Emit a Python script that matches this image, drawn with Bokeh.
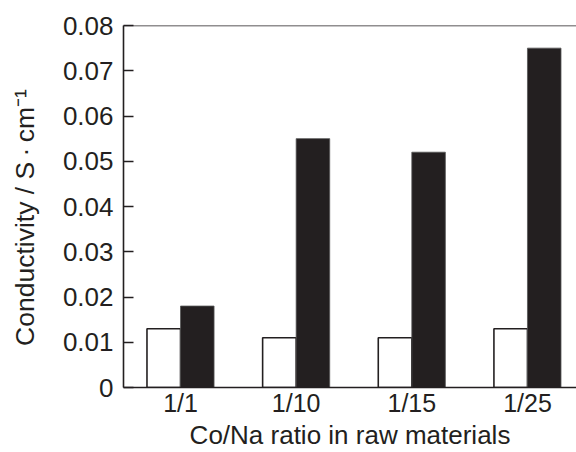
from bokeh.plotting import figure
from bokeh.models import Range1d, FixedTicker, Span, ColumnDataSource
from bokeh.embed import file_html
from bokeh.resources import INLINE

categories = ["1/1", "1/10", "1/15", "1/25"]
white_values = [0.013, 0.011, 0.011, 0.013]
black_values = [0.018, 0.055, 0.052, 0.075]
y_ticks = [0, 0.01, 0.02, 0.03, 0.04, 0.05, 0.06, 0.07, 0.08]
y_tick_labels = ["0", "0.01", "0.02", "0.03", "0.04", "0.05", "0.06", "0.07", "0.08"]
x_title = "Co/Na ratio in raw materials"
y_title = "Conductivity / S\u2009\u00b7\u2009cm\u207b\u00b9\u00a0\u00a0\u00a0"

INK = "#231f20"
FONT = "Liberation Sans"
bar_w = 0.29

idx = list(range(len(categories)))
src = ColumnDataSource(dict(
    xw=[i - bar_w / 2 for i in idx],
    xb=[i + bar_w / 2 for i in idx],
    w=white_values,
    b=black_values,
))

p = figure(width=576, height=452, output_backend="svg", toolbar_location=None,
           x_range=Range1d(-0.493, 3.424), y_range=Range1d(0, 0.08),
           min_border_left=123, min_border_right=0, min_border_top=25,
           min_border_bottom=64)
p.outline_line_color = None
p.grid.visible = False
p.background_fill_color = "white"
p.border_fill_color = "white"

p.vbar(x="xw", top="w", width=bar_w, source=src, fill_color="white",
       line_color=INK, line_width=1.6)
p.vbar(x="xb", top="b", width=bar_w, source=src, fill_color=INK,
       line_color="#555555", line_width=0.8)

p.add_layout(Span(location=0.08, dimension="width", line_color=INK, line_width=1.6))

# y axis
ya = p.yaxis[0]
ya.ticker = FixedTicker(ticks=y_ticks)
ya.major_label_overrides = {t: l for t, l in zip(y_ticks, y_tick_labels)}
ya.major_tick_in = 10
ya.major_tick_out = 0
ya.minor_tick_line_color = None
ya.axis_line_color = INK
ya.axis_line_width = 1.6
ya.major_tick_line_color = INK
ya.major_tick_line_width = 1.6
ya.major_label_standoff = 10
ya.major_label_text_font = FONT
ya.major_label_text_font_size = "26px"
ya.major_label_text_color = INK
ya.axis_label = y_title
ya.axis_label_text_font = FONT
ya.axis_label_text_font_size = "26.5px"
ya.axis_label_text_font_style = "normal"
ya.axis_label_text_color = INK
ya.axis_label_standoff = 20

# x axis
xa = p.xaxis[0]
xa.ticker = FixedTicker(ticks=idx)
xa.major_label_overrides = {i: c for i, c in zip(idx, categories)}
xa.major_tick_in = 0
xa.major_tick_out = 0
xa.minor_tick_line_color = None
xa.axis_line_color = INK
xa.axis_line_width = 1.6
xa.major_label_standoff = 1
xa.major_label_text_font = FONT
xa.major_label_text_font_size = "25px"
xa.major_label_text_color = INK
xa.axis_label = x_title
xa.axis_label_text_font = FONT
xa.axis_label_text_font_size = "26px"
xa.axis_label_text_font_style = "normal"
xa.axis_label_text_color = INK
xa.axis_label_standoff = 0

open("out.html", "w").write(file_html(p, INLINE))
